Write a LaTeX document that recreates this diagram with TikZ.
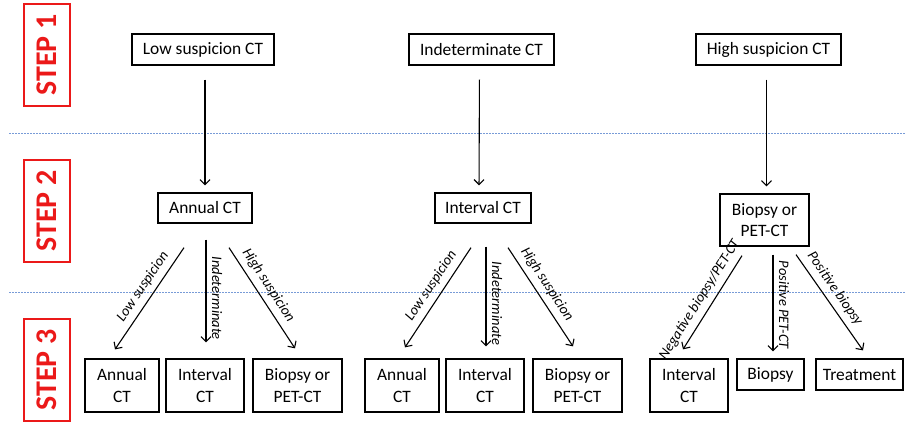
\documentclass[tikz,border=0pt]{standalone}
\usepackage{fontspec}
\setmainfont{Carlito}
\usetikzlibrary{arrows.meta,calc}
\definecolor{stepred}{RGB}{235,25,25}
\definecolor{sepblue}{RGB}{120,155,215}
\begin{document}
\begin{tikzpicture}[x=1pt,y=-1pt,
 box/.style={draw=black, line width=1.3pt, inner sep=1pt, align=center, font=\fontsize{17.4}{21.5}\selectfont},
 bx/.style 2 args={box, minimum width=#1, minimum height=#2},
 stepbox/.style={draw=stepred, line width=1.2pt, text=stepred, rotate=90, minimum width=102pt, minimum height=46pt, inner sep=0pt, font=\fontsize{30}{30}\selectfont\bfseries},
 arr/.style={line width=1.1pt, -{Straight Barb[length=5pt,width=10pt]}},
 lab/.style={font=\fontsize{14.5}{14.5}\selectfont\itshape, sloped, above=4.5pt, inner sep=1pt},
 sep/.style={draw=sepblue, line width=0.9pt, dash pattern=on 2pt off 1pt}]
\useasboundingbox (0,0) rectangle (905,422);

% step labels
\node[stepbox] (s1) at (47,55) {STEP 1};
\node[stepbox] (s2) at (47,211) {STEP 2};
\node[stepbox] (s3) at (47,370) {STEP 3};

% separators
\coordinate (d1a) at (9,133);
\coordinate (d1b) at (905,133);
\coordinate (d2a) at (9,292);
\coordinate (d2b) at (905,292);
\draw[sep] (d1a) -- (d1b);
\draw[sep] (d2a) -- (d2b);

% step 1
\node[bx={142pt}{31pt}] (low1) at (203,49.5) {Low suspicion CT};
\node[bx={145pt}{31pt}] (ind1) at (481.5,49.5) {Indeterminate CT};
\node[bx={145pt}{31pt}] (high1) at (768.5,49.5) {High suspicion CT};

% step 2
\node[bx={94pt}{30pt}] (ann2) at (205,208) {Annual CT};
\node[bx={96pt}{30pt}] (int2) at (483,208) {Interval CT};
\node[bx={89pt}{52pt}] (bio2) at (764.5,220) {Biopsy or\\PET-CT};

% step 3
\node[bx={74pt}{53pt}] (a3) at (122,385.5) {Annual\\CT};
\node[bx={78pt}{53pt}] (b3) at (205,385.5) {Interval\\CT};
\node[bx={89pt}{53pt}] (c3) at (297.5,385.5) {Biopsy or\\PET-CT};
\node[bx={74pt}{53pt}] (d3) at (402,385.5) {Annual\\CT};
\node[bx={78pt}{53pt}] (e3) at (485,385.5) {Interval\\CT};
\node[bx={89pt}{53pt}] (f3) at (577.5,385.5) {Biopsy or\\PET-CT};
\node[bx={78pt}{53pt}] (g3) at (689,385.5) {Interval\\CT};
\node[bx={67pt}{31pt}] (h3) at (770.5,374.5) {Biopsy};
\node[bx={87pt}{31pt}] (i3) at (859.5,374.5) {Treatment};

% step 1 -> step 2
\draw[arr, shorten <=14pt, shorten >=7pt] ($(low1.south)+(2,0)$) -- ($(ann2.north)+(0,0)$);
\draw[arr, shorten <=14pt, shorten >=7pt] ($(ind1.south)+(-2,0)$) -- ($(int2.north)+(-4,0)$) ;
\draw[arr, shorten <=14pt, shorten >=7pt] ($(high1.south)+(-2,0)$) -- ($(bio2.north)+(2,0)$);

% annual group
\draw[arr] ($(ann2.south)+(-21,24)$) -- ($(a3.north)+(-7,-9)$) node[lab, pos=0.45] {Low suspicion};
\draw[arr] ($(ann2.south)+(1,16)$) -- ($(b3.north)+(1,-16)$) node[lab, pos=0.57] {Indeterminate};
\draw[arr] ($(ann2.south)+(24,24)$) -- ($(c3.north)+(-2.5,-10)$) node[lab, pos=0.44] {High suspicion};

% interval group
\draw[arr] ($(int2.south)+(-12,24)$) -- ($(d3.north)+(3,-11)$) node[lab, pos=0.45] {Low suspicion};
\draw[arr] ($(int2.south)+(3,23)$) -- ($(e3.north)+(1,-12)$) node[lab, pos=0.57] {Indeterminate};
\draw[arr] ($(int2.south)+(25,24)$) -- ($(f3.north)+(-4.5,-12)$) node[lab, pos=0.44] {High suspicion};

% biopsy group
\draw[arr] ($(bio2.south)+(-22.5,9)$) -- ($(g3.north)+(-6,-9)$) node[lab, pos=0.54] {Negative biopsy/PET-CT};
\draw[arr] ($(bio2.south)+(8.5,8)$) -- ($(h3.north)+(2.5,-7)$) node[lab, pos=0.52] {Positive PET-CT};
\draw[arr] ($(bio2.south)+(31.5,8)$) -- ($(i3.north)+(3.5,-8)$) node[lab, pos=0.43] {Positive biopsy};
\end{tikzpicture}
\end{document}
